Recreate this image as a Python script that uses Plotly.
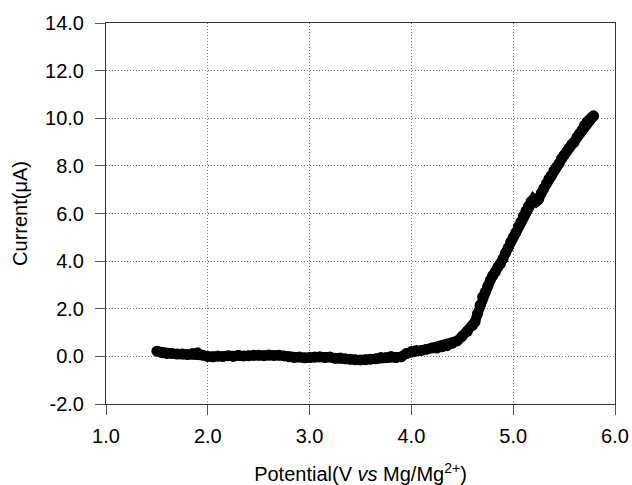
import plotly.graph_objects as go

potential = [
    1.50, 1.55, 1.60, 1.65, 1.70, 1.75, 1.80, 1.85, 1.90, 1.95,
    2.00, 2.05, 2.10, 2.15, 2.20, 2.25, 2.30, 2.35, 2.40, 2.45,
    2.50, 2.55, 2.60, 2.65, 2.70, 2.75, 2.80, 2.85, 2.90, 2.95,
    3.00, 3.05, 3.10, 3.15, 3.20, 3.25, 3.30, 3.35, 3.40, 3.45,
    3.50, 3.55, 3.60, 3.65, 3.70, 3.75, 3.80, 3.85, 3.90, 3.95,
    4.00, 4.05, 4.10, 4.15, 4.20, 4.25, 4.30, 4.35, 4.40, 4.45,
    4.50, 4.55, 4.60, 4.625, 4.65, 4.675, 4.70, 4.725, 4.75, 4.775,
    4.80, 4.825, 4.85, 4.875, 4.90, 4.925, 4.95, 4.975, 5.00, 5.025,
    5.05, 5.075, 5.10, 5.125, 5.15, 5.175, 5.20, 5.225, 5.25, 5.275,
    5.30, 5.325, 5.35, 5.375, 5.40, 5.425, 5.45, 5.475, 5.50, 5.525,
    5.55, 5.575, 5.60, 5.625, 5.65, 5.675, 5.70, 5.725, 5.75, 5.775,
    5.79,
]
current = [
    0.22, 0.15, 0.12, 0.12, 0.10, 0.10, 0.08, 0.12, 0.15, 0.05,
    0.00, -0.02, 0.02, 0.00, 0.03, 0.00, 0.05, 0.02, 0.03, 0.05,
    0.05, 0.03, 0.06, 0.04, 0.05, 0.02, -0.02, -0.05, -0.03, -0.06,
    -0.05, -0.03, -0.02, -0.05, -0.03, -0.08, -0.07, -0.10, -0.12, -0.14,
    -0.15, -0.14, -0.12, -0.10, -0.05, -0.05, 0.00, -0.05, -0.02, 0.12,
    0.20, 0.25, 0.25, 0.30, 0.35, 0.35, 0.40, 0.45, 0.55, 0.65,
    0.85, 1.05, 1.30, 1.45, 1.80, 2.15, 2.50, 2.70, 2.95, 3.20,
    3.40, 3.55, 3.75, 3.90, 4.10, 4.35, 4.55, 4.80, 5.00, 5.20,
    5.45, 5.65, 5.90, 6.10, 6.30, 6.50, 6.60, 6.50, 6.60, 6.85,
    7.05, 7.25, 7.45, 7.60, 7.80, 7.95, 8.10, 8.30, 8.45, 8.60,
    8.75, 8.90, 9.00, 9.20, 9.35, 9.50, 9.70, 9.85, 9.95, 10.05,
    10.10,
]

x_ticks = [1.0, 2.0, 3.0, 4.0, 5.0, 6.0]
x_labels = ["1.0", "2.0", "3.0", "4.0", "5.0", "6.0"]
y_ticks = [-2.0, 0.0, 2.0, 4.0, 6.0, 8.0, 10.0, 12.0, 14.0]
y_labels = ["-2.0", "0.0", "2.0", "4.0", "6.0", "8.0", "10.0", "12.0", "14.0"]

FONT = "Liberation Sans, Arial, sans-serif"

fig = go.Figure()
fig.add_trace(go.Scatter(
    x=potential, y=current, mode="lines+markers",
    line=dict(color="black", width=10),
    marker=dict(color="black", size=11),
    showlegend=False,
))

axis_common = dict(
    showline=True, linecolor="#333", linewidth=1, mirror=True,
    ticks="outside", ticklen=10, tickcolor="#555", tickwidth=1,
    showgrid=True, gridcolor="#777", griddash="1px,2px", gridwidth=1,
    zeroline=False, tickfont=dict(family=FONT, size=20, color="black"),
    automargin=False,
)

fig.update_layout(
    width=632, height=485,
    margin=dict(l=106, r=17, t=23, b=81),
    paper_bgcolor="white", plot_bgcolor="white",
    font=dict(family=FONT, color="black"),
    xaxis=dict(
        range=[1.0, 6.0], tickvals=x_ticks, ticktext=x_labels,
        ticklabelstandoff=4,
        title=dict(text="Potential(V <i>vs</i> Mg/Mg<sup>2+</sup>)",
                   font=dict(family=FONT, size=20), standoff=22),
        **axis_common,
    ),
    yaxis=dict(
        range=[-2.0, 14.0], tickvals=y_ticks, ticktext=y_labels,
        ticklabelstandoff=7,
        title=dict(text="Current(μA)", font=dict(family=FONT, size=20), standoff=12),
        **axis_common,
    ),
)

fig.write_html(
    "out.html",
    config={"displayModeBar": False},
    post_script="document.body.style.margin='0';document.body.style.overflow='hidden';",
)
